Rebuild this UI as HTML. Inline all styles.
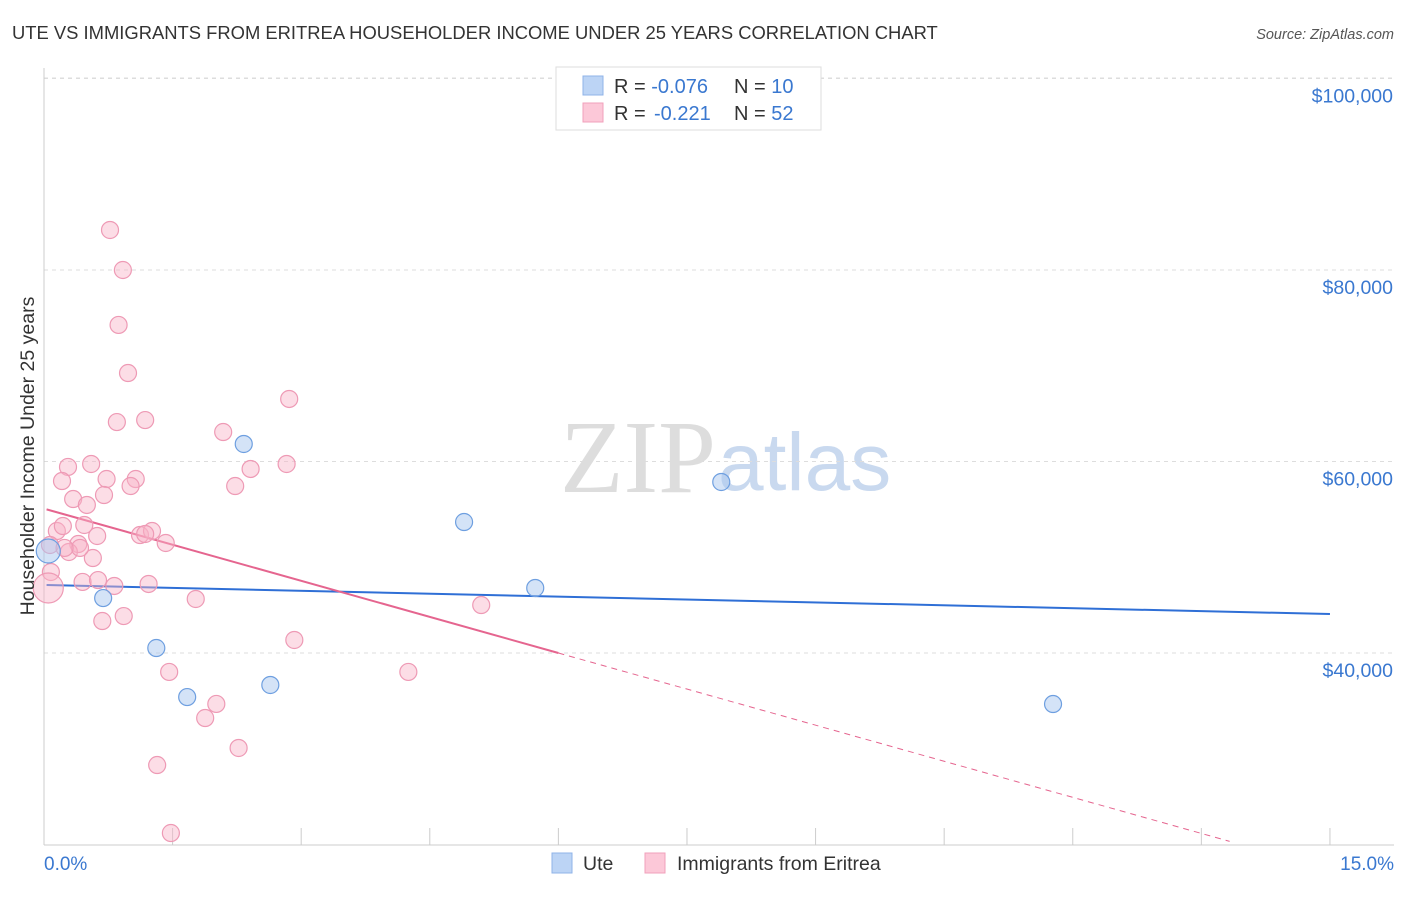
<!DOCTYPE html>
<html><head><meta charset="utf-8"><style>
body{margin:0;background:#fff;font-family:"Liberation Sans",sans-serif;}
svg text{font-family:"Liberation Sans",sans-serif;}
</style></head><body>
<svg id="chart" width="1406" height="892" xmlns="http://www.w3.org/2000/svg">
<text x="12" y="39" font-size="18.4" fill="#333">UTE VS IMMIGRANTS FROM ERITREA HOUSEHOLDER INCOME UNDER 25 YEARS CORRELATION CHART</text>
<text x="1394" y="39" font-size="14.5" fill="#555" font-style="italic" text-anchor="end">Source: ZipAtlas.com</text>
<text x="716" y="492" font-size="104" fill="#ddd" style="font-family:'Liberation Serif',serif" text-anchor="end">ZIP</text>
<text x="718" y="490" font-size="82" fill="#c9d9ef">atlas</text>
<g id="grid"></g>
<g id="axes"></g>
<g id="lines"></g>
<g id="points"></g>
<text transform="translate(34,456) rotate(-90)" font-size="19.5" fill="#333" text-anchor="middle">Householder Income Under 25 years</text>
<text x="44" y="870" font-size="19" fill="#3a78d0">0.0%</text>
<text x="1394" y="870" font-size="19" fill="#3a78d0" text-anchor="end">15.0%</text>
<g>
<rect x="556" y="67" width="265" height="63" fill="#fff" stroke="#ddd"/>
<rect x="583" y="76" width="20" height="19" fill="#bcd4f5" stroke="#8fb3e8"/>
<rect x="583" y="103" width="20" height="19" fill="#fcc8d8" stroke="#f1a0bb"/>
<text x="614" y="93" font-size="20" fill="#333">R = <tspan fill="#3a78d0">-0.076</tspan><tspan x="734">N = </tspan><tspan fill="#3a78d0">10</tspan></text>
<text x="614" y="120" font-size="20" fill="#333">R = <tspan x="654" fill="#3a78d0">-0.221</tspan><tspan x="734">N = </tspan><tspan fill="#3a78d0">52</tspan></text>
</g>
<g>
<rect x="552" y="853" width="20" height="20" fill="#bcd4f5" stroke="#8fb3e8"/>
<text x="583" y="870" font-size="19.5" fill="#333">Ute</text>
<rect x="645" y="853" width="20" height="20" fill="#fcc8d8" stroke="#f1a0bb"/>
<text x="677" y="870" font-size="19.5" fill="#333">Immigrants from Eritrea</text>
</g>
</svg>
<script>
const yTicks=[40000,60000,80000,100000];
const yTickLabels=["$40,000","$60,000","$80,000","$100,000"];
const uteX=[0.05,0.69,1.31,1.67,2.33,2.64,4.90,5.73,7.90,11.77];
const uteY=[50650,45740,40520,35400,61830,36660,53680,46790,57860,34670];
const eriX=[0.77,0.92,0.87,0.98,0.85,1.18,2.86,2.09,0.28,0.55,0.21,0.73,1.07,1.01,2.41,2.23,2.83,0.34,0.70,0.50,0.15,0.22,0.47,0.62,1.12,1.26,1.18,1.42,0.40,0.07,0.29,0.57,0.08,0.45,0.63,0.82,1.22,0.05,1.77,5.10,0.93,0.68,2.92,1.46,4.25,2.01,1.88,2.27,1.32,1.48,0.42,0.24];
const eriY=[84180,80000,74260,69240,64120,64330,66530,63080,59430,59740,57960,58170,58170,57440,59220,57440,59740,56080,56500,55460,52740,53260,53370,52220,52320,52740,52430,51490,51380,51280,50550,49920,48460,47420,47620,47000,47210,46790,45640,45010,43860,43340,41360,38020,38020,34680,33210,30080,28300,21200,50970,50970];
const uteTrend=[[0.03,47100],[15,44070]];
const eriTrend=[[0.03,55000],[6.0,40000]];
const eriTrendExt=13.83;
const NS="http://www.w3.org/2000/svg";
const xs=v=>44+v*85.73;
const ys=v=>1036-v/20000*191.5;
function mk(t,a,p){const e=document.createElementNS(NS,t);for(const k in a)e.setAttribute(k,a[k]);document.getElementById(p).appendChild(e);return e;}
yTicks.concat([102000]).forEach((t,i)=>{
 const yy=i<4?ys(t):78;
 const l=mk('line',{x1:44,x2:1394,y1:yy,y2:yy,stroke:'#ddd','stroke-dasharray':'4,4'},'grid');
 
 
 if(i<4){const tx=mk('text',{x:1393,y:yy+24,'font-size':19.5,fill:'#3a78d0','text-anchor':'end'},'grid');tx.textContent=yTickLabels[i];
 
 }
});
const ax=mk('line',{x1:44,x2:44,y1:68,y2:845,stroke:'#ccc'},'axes');


const bx=mk('line',{x1:44,x2:1394,y1:845,y2:845,stroke:'#ccc'},'axes');


for(let i=1;i<=10;i++){const t=mk('line',{x1:xs(i*1.5),x2:xs(i*1.5),y1:828,y2:845,stroke:'#ccc'},'axes');

}
function pt(x,y,fill,stroke,r,name){const c=mk('circle',{cx:xs(x),cy:ys(y),r:r,fill:fill,stroke:stroke,'stroke-width':1.2},'points');

}
eriX.forEach((x,i)=>pt(x,eriY[i],'rgba(248,180,200,0.45)','#ee9ab5',i==37?15:8.5,'eritrea-point'));
uteX.forEach((x,i)=>pt(x,uteY[i],'rgba(170,200,240,0.5)','#6e9fe0',i==0?12:8.5,'ute-point'));
const ul=mk('line',{x1:xs(uteTrend[0][0]),y1:ys(uteTrend[0][1]),x2:xs(uteTrend[1][0]),y2:ys(uteTrend[1][1]),stroke:'#2f6fd6','stroke-width':2},'lines');


const el=mk('line',{x1:xs(eriTrend[0][0]),y1:ys(eriTrend[0][1]),x2:xs(eriTrend[1][0]),y2:ys(eriTrend[1][1]),stroke:'#e5658f','stroke-width':2},'lines');


const slope=(eriTrend[1][1]-eriTrend[0][1])/(eriTrend[1][0]-eriTrend[0][0]);
const ed=mk('line',{x1:xs(eriTrend[1][0]),y1:ys(eriTrend[1][1]),x2:xs(eriTrendExt),y2:ys(eriTrend[1][1]+slope*(eriTrendExt-eriTrend[1][0])),stroke:'#e5658f','stroke-width':1,'stroke-dasharray':'6,5'},'lines');


</script>
</body></html>
